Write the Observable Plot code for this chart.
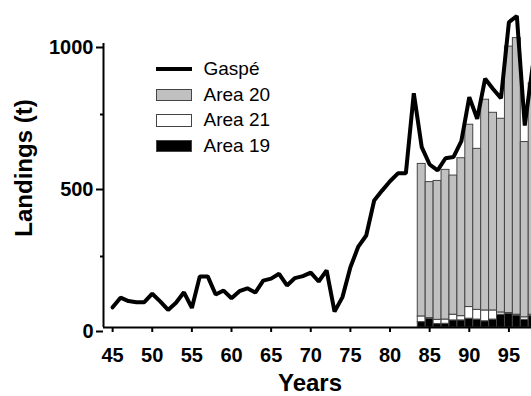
<!DOCTYPE html>
<html><head><meta charset="utf-8">
<script src="https://cdn.jsdelivr.net/npm/d3@7"></script>
<script src="https://cdn.jsdelivr.net/npm/@observablehq/plot@0.6"></script>
<style>
html,body{margin:0;padding:0;background:#fff;overflow:hidden;width:531px;height:396px}
#wrap{position:relative;width:531px;height:396px}
#legend{position:absolute;left:155.5px;top:56.5px;font:19px "Liberation Sans",Arial,sans-serif;color:#000}
.item{display:flex;align-items:center;height:25.6px;white-space:nowrap}
.sw{width:36px;height:12.5px;box-sizing:border-box;margin-right:12px;flex:none}
</style></head><body><div id="wrap"><div id="legend"></div></div>
<script>
// ---- data ----
const lineYears = [1945,1946,1947,1948,1949,1950,1951,1952,1953,1954,1955,1956,1957,1958,1959,1960,1961,1962,1963,1964,1965,1966,1967,1968,1969,1970,1971,1972,1973,1974,1975,1976,1977,1978,1979,1980,1981,1982,1983,1984,1985,1986,1987,1988,1989,1990,1991,1992,1993,1994,1995,1996,1997,1998];
const gaspe = [71,105,93,89,89,119,92,62,87,124,69,180,180,116,130,103,128,138,123,165,172,189,148,174,181,193,162,201,56,107,212,285,324,447,482,515,543,543,825,635,574,553,596,600,656,811,735,876,840,807,1075,1097,711,920];

const barYears = [1984,1985,1986,1987,1988,1989,1990,1991,1992,1993,1994,1995,1996,1997,1998];
const area19 = [19,31,12,13,25,25,31,28,22,28,45,48,42,27,40];
const area21 = [20,2,15,15,20,15,41,34,38,32,8,3,3,9,5];
const area20 = [537,479,489,527,490,556,642,567,742,696,682,938,974,617,815];

const seriesNames = ["Area 19","Area 21","Area 20"];      // stacking order, bottom to top
const seriesColors = ["#000000","#ffffff","#c0c0c0"];
const lineName = "Gaspé";
const legendOrder = ["Gaspé","Area 20","Area 21","Area 19"];

const xTicks = [1945,1950,1955,1960,1965,1970,1975,1980,1985,1990,1995];
const xTickLabels = ["45","50","55","60","65","70","75","80","85","90","95"];
const yMajorTicks = [0,500,1000];
const yMinorTicks = [250,750];
const xTitle = "Years";
const yTitle = "Landings (t)";
const xDomain = [1943.85, 1997.85];
const yDomain = [0, 1000];

// ---- tables ----
const gaspeRows = lineYears.map((year, i) => ({year, value: gaspe[i]}));
const seriesValues = [area19, area21, area20];
const barRows = [];
barYears.forEach((year, i) => {
  seriesNames.forEach((name, k) => {
    barRows.push({year, x1: year - 0.5, x2: year + 0.5, area: name, value: seriesValues[k][i]});
  });
});

const font = '"Liberation Sans", Arial, Helvetica, sans-serif';

const chart = Plot.plot({
  width: 531, height: 396,
  marginLeft: 103, marginRight: 0, marginTop: 43, marginBottom: 69,
  style: {fontFamily: font, fontSize: "20px", fontWeight: "bold", background: "transparent", color: "#000"},
  x: {domain: xDomain, axis: null},
  y: {domain: yDomain, axis: null},
  color: {domain: seriesNames, range: seriesColors},
  marks: [
    Plot.rectY(barRows, Plot.stackY({x1: "x1", x2: "x2", y: "value", fill: "area", stroke: "#444", strokeWidth: 1, order: null})),
    Plot.line(gaspeRows, {x: "year", y: "value", stroke: "#000", strokeWidth: 4, strokeLinejoin: "miter"}),
    Plot.ruleY([yDomain[0]], {stroke: "#000", strokeWidth: 2}),
    Plot.ruleX([xDomain[0]], {y1: yDomain[0], y2: yDomain[1], stroke: "#000", strokeWidth: 2}),
    Plot.axisY(yMajorTicks, {tickSize: 7, tickPadding: 3, tickFormat: d => String(d), fontSize: 20, fontWeight: "bold", strokeWidth: 2, label: null, textAnchor: "end", dy: 4}),
    Plot.axisY(yMinorTicks, {tickSize: 3, tickFormat: () => "", strokeWidth: 2, label: null}),
    Plot.axisX(xTicks, {tickSize: 5, tickPadding: 15, tickFormat: d => xTickLabels[xTicks.indexOf(d)], fontSize: 20, fontWeight: "bold", strokeWidth: 2, label: null})
  ]
});
document.getElementById("wrap").prepend(chart);

// axis titles
const svg = d3.select(chart);
svg.append("text")
  .attr("transform", "translate(24,168) rotate(-90)")
  .attr("text-anchor", "middle")
  .attr("dy", "0.35em")
  .attr("font-size", 24).attr("font-weight", "bold").attr("font-family", font).attr("fill", "#000")
  .text(yTitle);
svg.append("text")
  .attr("x", 310).attr("y", 391)
  .attr("text-anchor", "middle")
  .attr("font-size", 24).attr("font-weight", "bold").attr("font-family", font).attr("fill", "#000")
  .text(xTitle);

// ---- legend ----
const legend = document.getElementById("legend");
legendOrder.forEach(name => {
  const item = document.createElement("div");
  item.className = "item";
  const sw = document.createElement("div");
  sw.className = "sw";
  if (name === lineName) {
    sw.style.height = "4px";
    sw.style.background = "#000";
  } else {
    const k = seriesNames.indexOf(name);
    sw.style.background = seriesColors[k];
    sw.style.border = "1px solid #444";
  }
  const label = document.createElement("span");
  label.textContent = name;
  item.append(sw, label);
  legend.append(item);
});
</script></body></html>
